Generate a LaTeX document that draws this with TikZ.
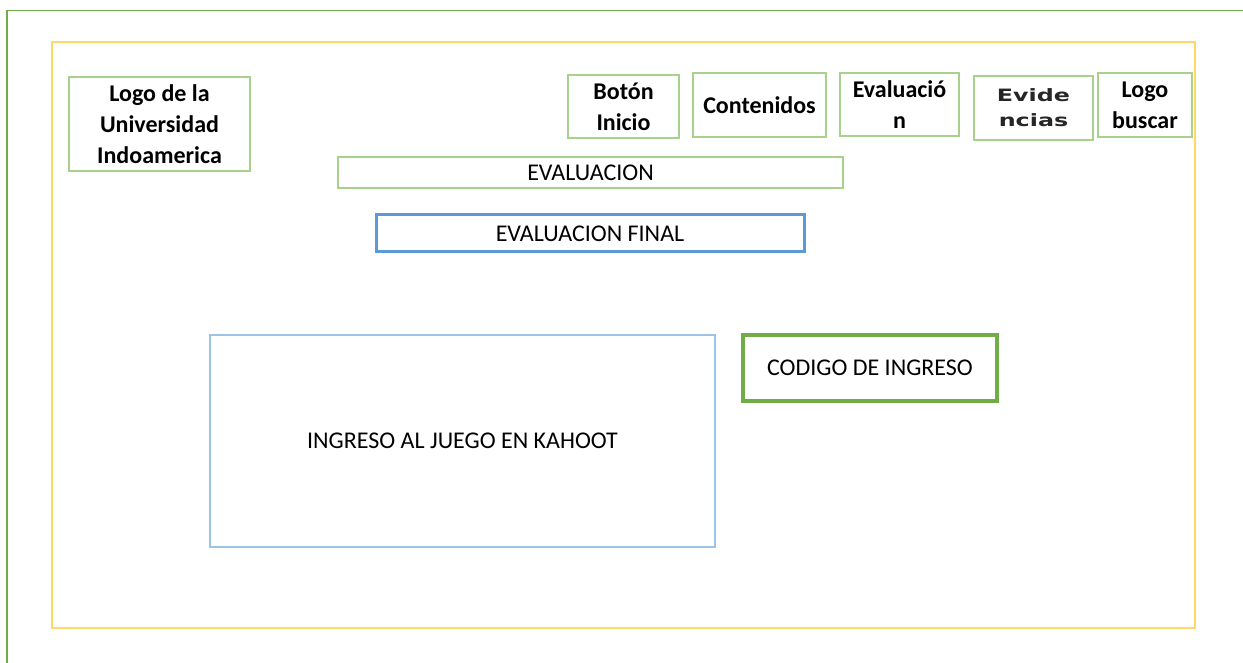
\documentclass[tikz,border=0pt]{standalone}
\usepackage{fontspec}
\setmainfont{Carlito}
\newfontfamily\evfont{DejaVu Sans}
\usepackage{tikz}
\usetikzlibrary{positioning}
\definecolor{verdeMarco}{RGB}{112,173,71}
\definecolor{verdeClaro}{RGB}{169,209,142}
\definecolor{amarilloMarco}{RGB}{255,217,102}
\definecolor{azulFinal}{RGB}{91,155,213}
\definecolor{azulClaro}{RGB}{157,195,230}
\tikzset{
  wf/tab/.style={rectangle, draw=verdeClaro, fill=white, line width=1pt,
    inner sep=0pt, align=center,
    font=\fontsize{12}{15.5}\selectfont\bfseries},
  wf/bar/.style={rectangle, draw=verdeClaro, fill=white, line width=1pt,
    inner sep=0pt, font=\fontsize{12}{14}\selectfont},
  wf/final/.style={rectangle, draw=azulFinal, fill=white, line width=1.5pt,
    inner sep=0pt, font=\fontsize{12}{14}\selectfont},
  wf/juego/.style={rectangle, draw=azulClaro, fill=white, line width=0.7pt,
    inner sep=0pt, font=\fontsize{12}{14}\selectfont},
  wf/codigo/.style={rectangle, draw=verdeMarco, fill=white, line width=1.7pt,
    inner sep=0pt, font=\fontsize{12}{14}\selectfont}
}
\begin{document}
\begin{tikzpicture}[x=0.5pt, y=-0.5pt]
    \useasboundingbox (0,0) rectangle (1243,663);
    % marcos
    \draw[verdeMarco, line width=0.7pt] (1243,10.5) -| (7,663);
    \draw[amarilloMarco, line width=1.2pt] (52,42) rectangle (1195,628);
    % cabecera
    \node[wf/tab, minimum width=90.5pt, minimum height=47pt] (logo) at (159.5,124)
      {Logo de la\\Universidad\\Indoamerica};
    \node[wf/tab, minimum width=55.5pt, minimum height=31.5pt] (inicio) at (623.5,106.5)
      {Botón\\Inicio};
    \node[wf/tab, minimum width=66.5pt, minimum height=32pt] (contenidos) at (759.5,105)
      {Contenidos};
    \node[wf/tab, minimum width=59.5pt, minimum height=31.5pt] (evaluacion) at (899.5,104.5)
      {Evaluació\\n};
    \node[wf/tab, minimum width=59.5pt, minimum height=32pt,
      font=\evfont\bfseries\fontsize{8.5}{12.5}\selectfont\color{black!85}] (evidencias) at (1033.5,108)
      {\scalebox{1.4}[1]{Evide}\\\scalebox{1.4}[1]{ncias}};
    \node[wf/tab, minimum width=47pt, minimum height=32pt] (buscar) at (1145,105)
      {Logo\\buscar};
    % contenido
    \node[wf/bar, minimum width=252.5pt, minimum height=15.5pt] (barra) at (590.5,172.5)
      {EVALUACION};
    \node[wf/final, minimum width=214pt, minimum height=18.5pt] (final) at (590,233.5)
      {EVALUACION FINAL};
    \node[wf/juego, minimum width=252.5pt, minimum height=106pt] (juego) at (462.5,441)
      {INGRESO AL JUEGO EN KAHOOT};
    \node[wf/codigo, minimum width=127pt, minimum height=33pt] (codigo) at (870,368)
      {CODIGO DE INGRESO};
\end{tikzpicture}
\end{document}
